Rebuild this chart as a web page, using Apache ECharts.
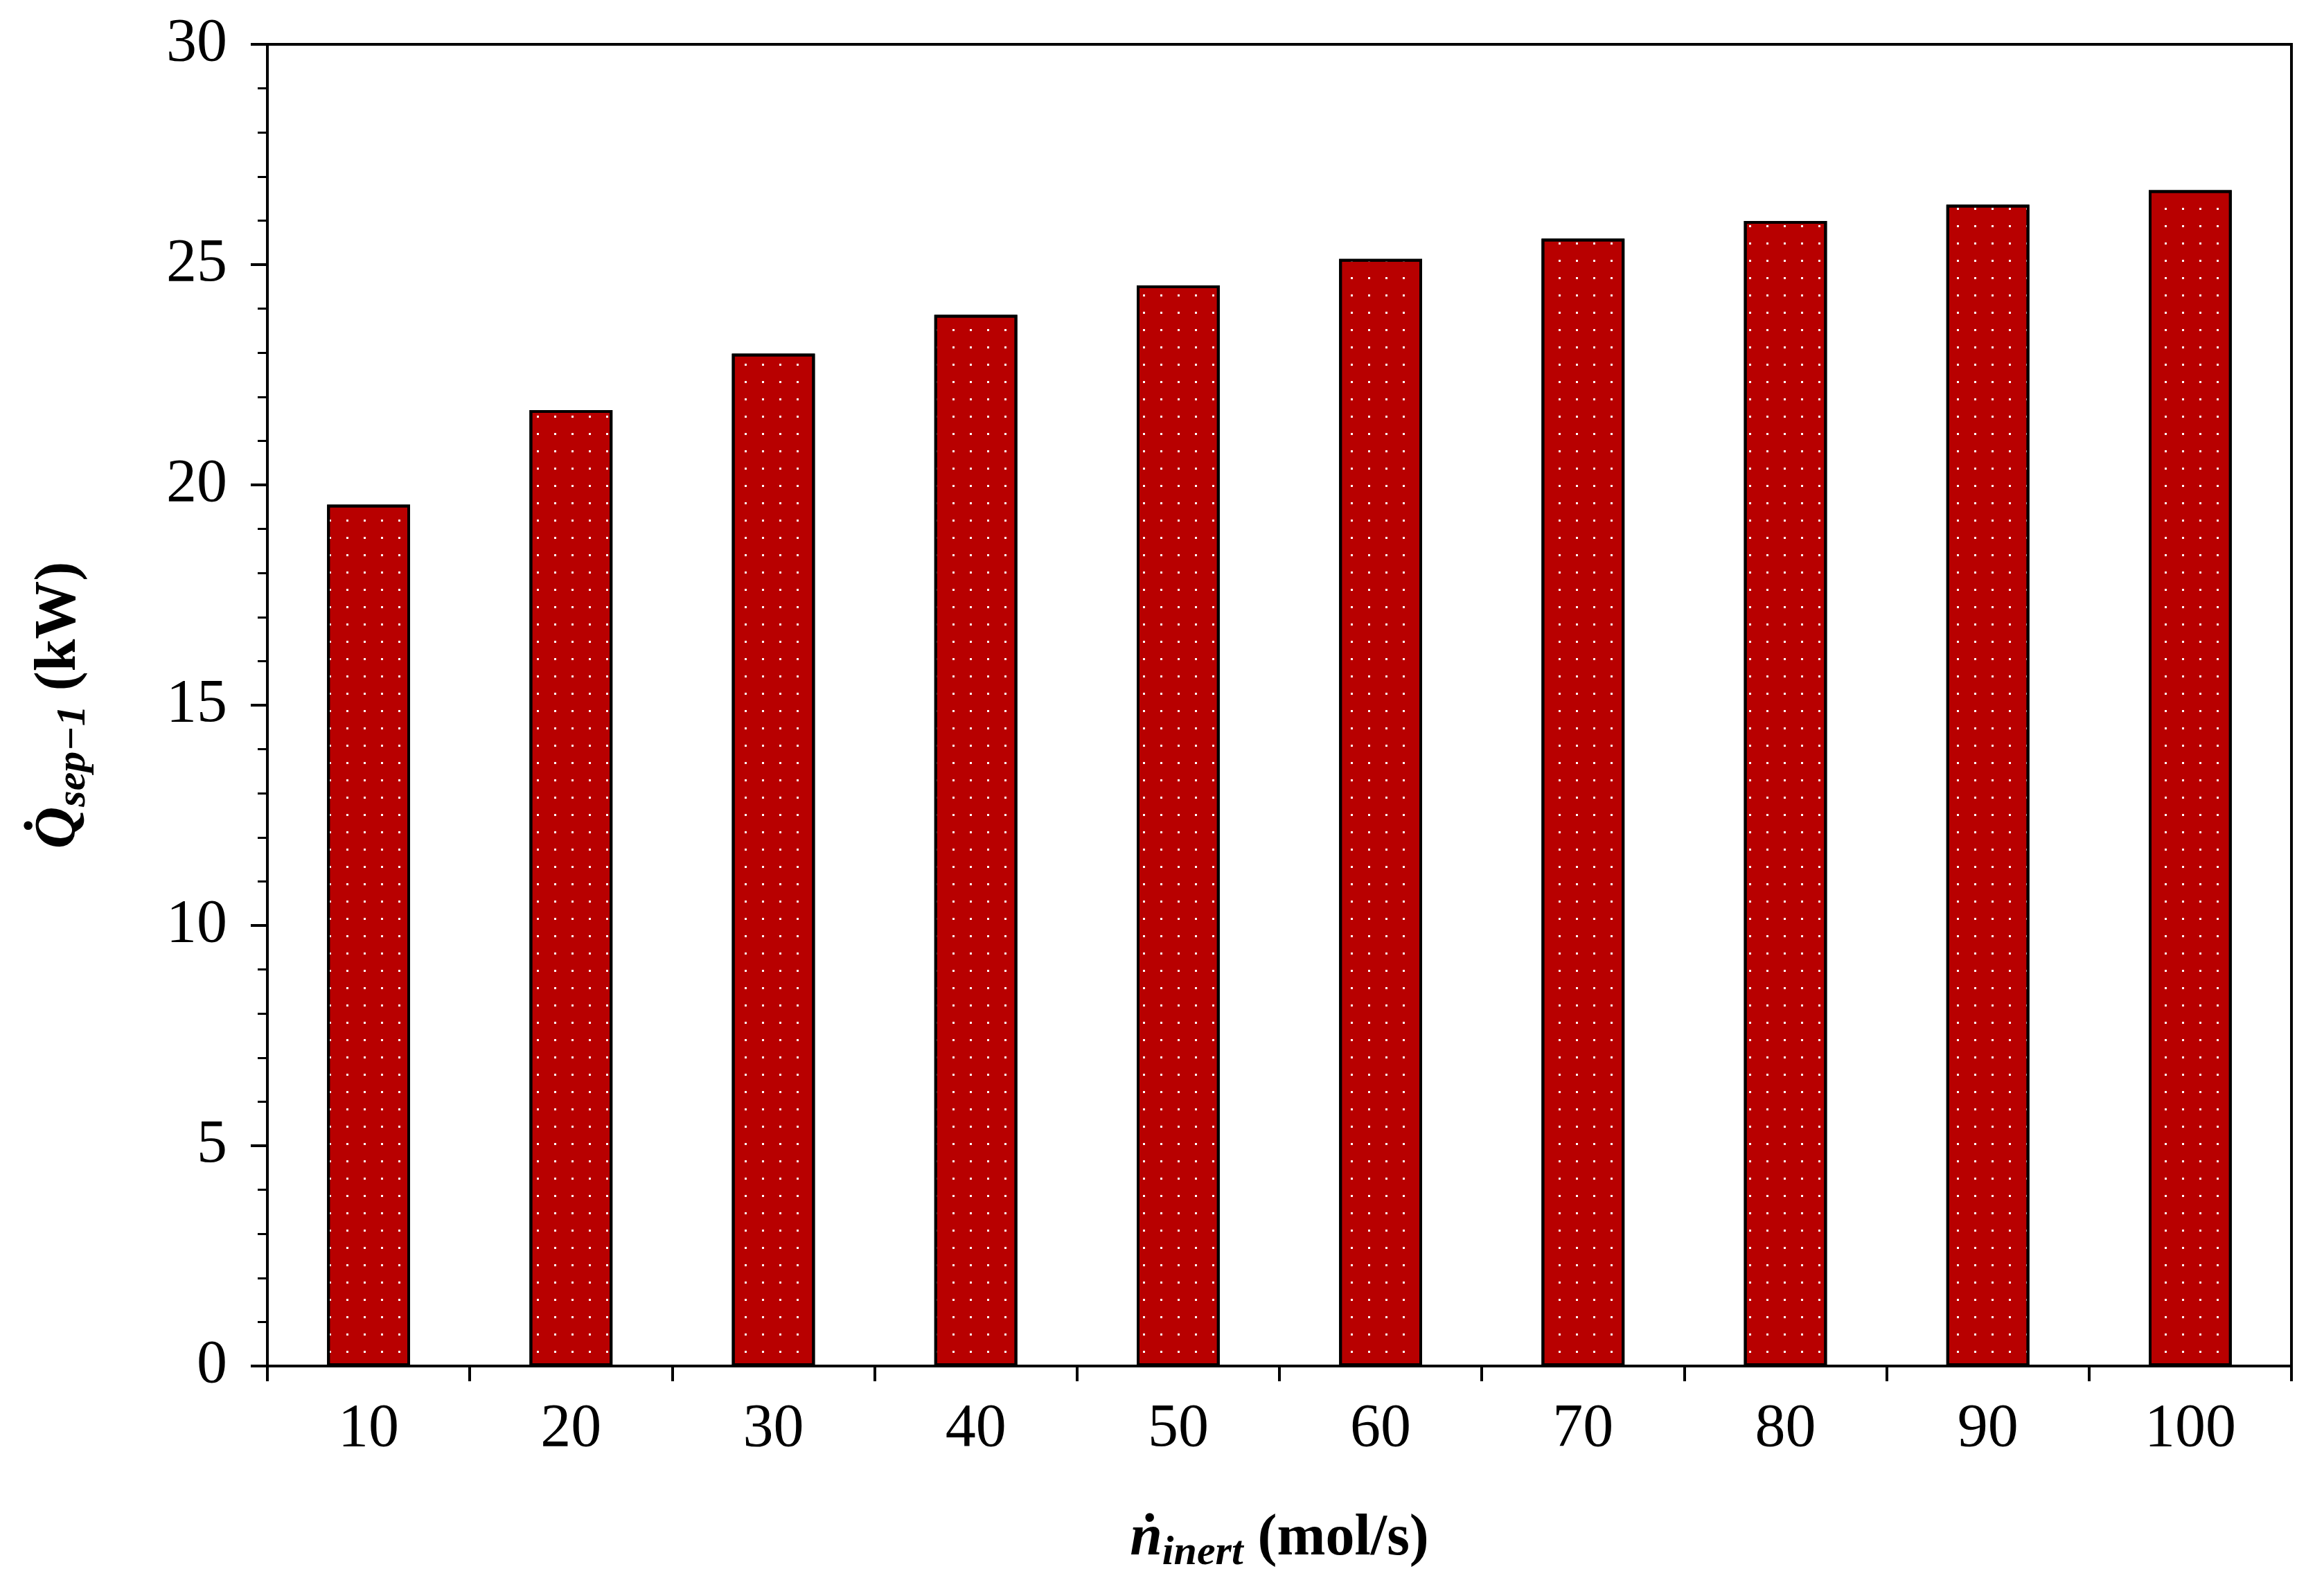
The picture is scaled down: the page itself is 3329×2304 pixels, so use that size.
<!DOCTYPE html>
<html><head><meta charset="utf-8">
<script src="https://cdn.jsdelivr.net/npm/echarts@6/dist/echarts.min.js"></script>
<style>html,body{margin:0;padding:0;background:#fff}#c{width:3329px;height:2304px}</style>
</head><body><div id="c"></div>
<script>
const categories = ['10','20','30','40','50','60','70','80','90','100'];
const values = [19.55, 21.7, 22.98, 23.86, 24.53, 25.13, 25.59, 25.99, 26.36, 26.69];
const yTicks = [0, 5, 10, 15, 20, 25, 30];

const chart = echarts.init(document.getElementById('c'));
const F = 'Liberation Serif';
chart.setOption({
  backgroundColor: '#fff',
  grid: {left: 386, right: 21, top: 64, bottom: 332, show: true, borderColor: '#000', borderWidth: 4},
  xAxis: {
    type: 'category', data: categories,
    axisLine: {lineStyle: {color: '#000', width: 4}},
    axisTick: {show: true, length: 22, lineStyle: {color: '#000', width: 4}, alignWithLabel: false},
    axisLabel: {fontFamily: F, fontSize: 88, color: '#000', margin: 48},
    name: '{a|ṅ}{s|inert}{b| (mol/s)}', nameLocation: 'middle', nameGap: 200,
    nameTextStyle: {rich: {
      a: {fontFamily: F, fontSize: 84, fontWeight: 'bold', fontStyle: 'italic', color: '#000'},
      s: {fontFamily: F, fontSize: 60, fontWeight: 'bold', fontStyle: 'italic', color: '#000', padding: [40,0,0,0]},
      b: {fontFamily: F, fontSize: 84, fontWeight: 'bold', color: '#000'}
    }}
  },
  yAxis: {
    type: 'value', min: 0, max: 30, interval: 5,
    axisLine: {show: true, lineStyle: {color: '#000', width: 4}},
    axisTick: {show: true, length: 24, lineStyle: {color: '#000', width: 4}},
    minorTick: {show: true, splitNumber: 5, length: 14, lineStyle: {color: '#000', width: 3}},
    splitLine: {show: false},
    axisLabel: {fontFamily: F, fontSize: 88, color: '#000', margin: 58,
      formatter: v => yTicks.includes(v) ? String(v) : ''},
    name: '{a|Q̇}{s|sep−1}{b| (kW)}', nameLocation: 'middle', nameGap: 250,
    nameTextStyle: {rich: {
      a: {fontFamily: F, fontSize: 84, fontWeight: 'bold', fontStyle: 'italic', color: '#000'},
      s: {fontFamily: F, fontSize: 60, fontWeight: 'bold', fontStyle: 'italic', color: '#000', padding: [40,0,0,0]},
      b: {fontFamily: F, fontSize: 84, fontWeight: 'bold', color: '#000'}
    }}
  },
  series: [{
    type: 'bar', data: values, barWidth: '41%',
    itemStyle: {color: '#B80000', borderColor: '#000', borderWidth: 4,
      decal: {symbol: 'rect', symbolSize: 1, color: '#ffffff', dashArrayX: [[3, 22]], dashArrayY: [3, 22], rotation: 0}},
    animation: false
  }],
  animation: false
});
</script></body></html>
